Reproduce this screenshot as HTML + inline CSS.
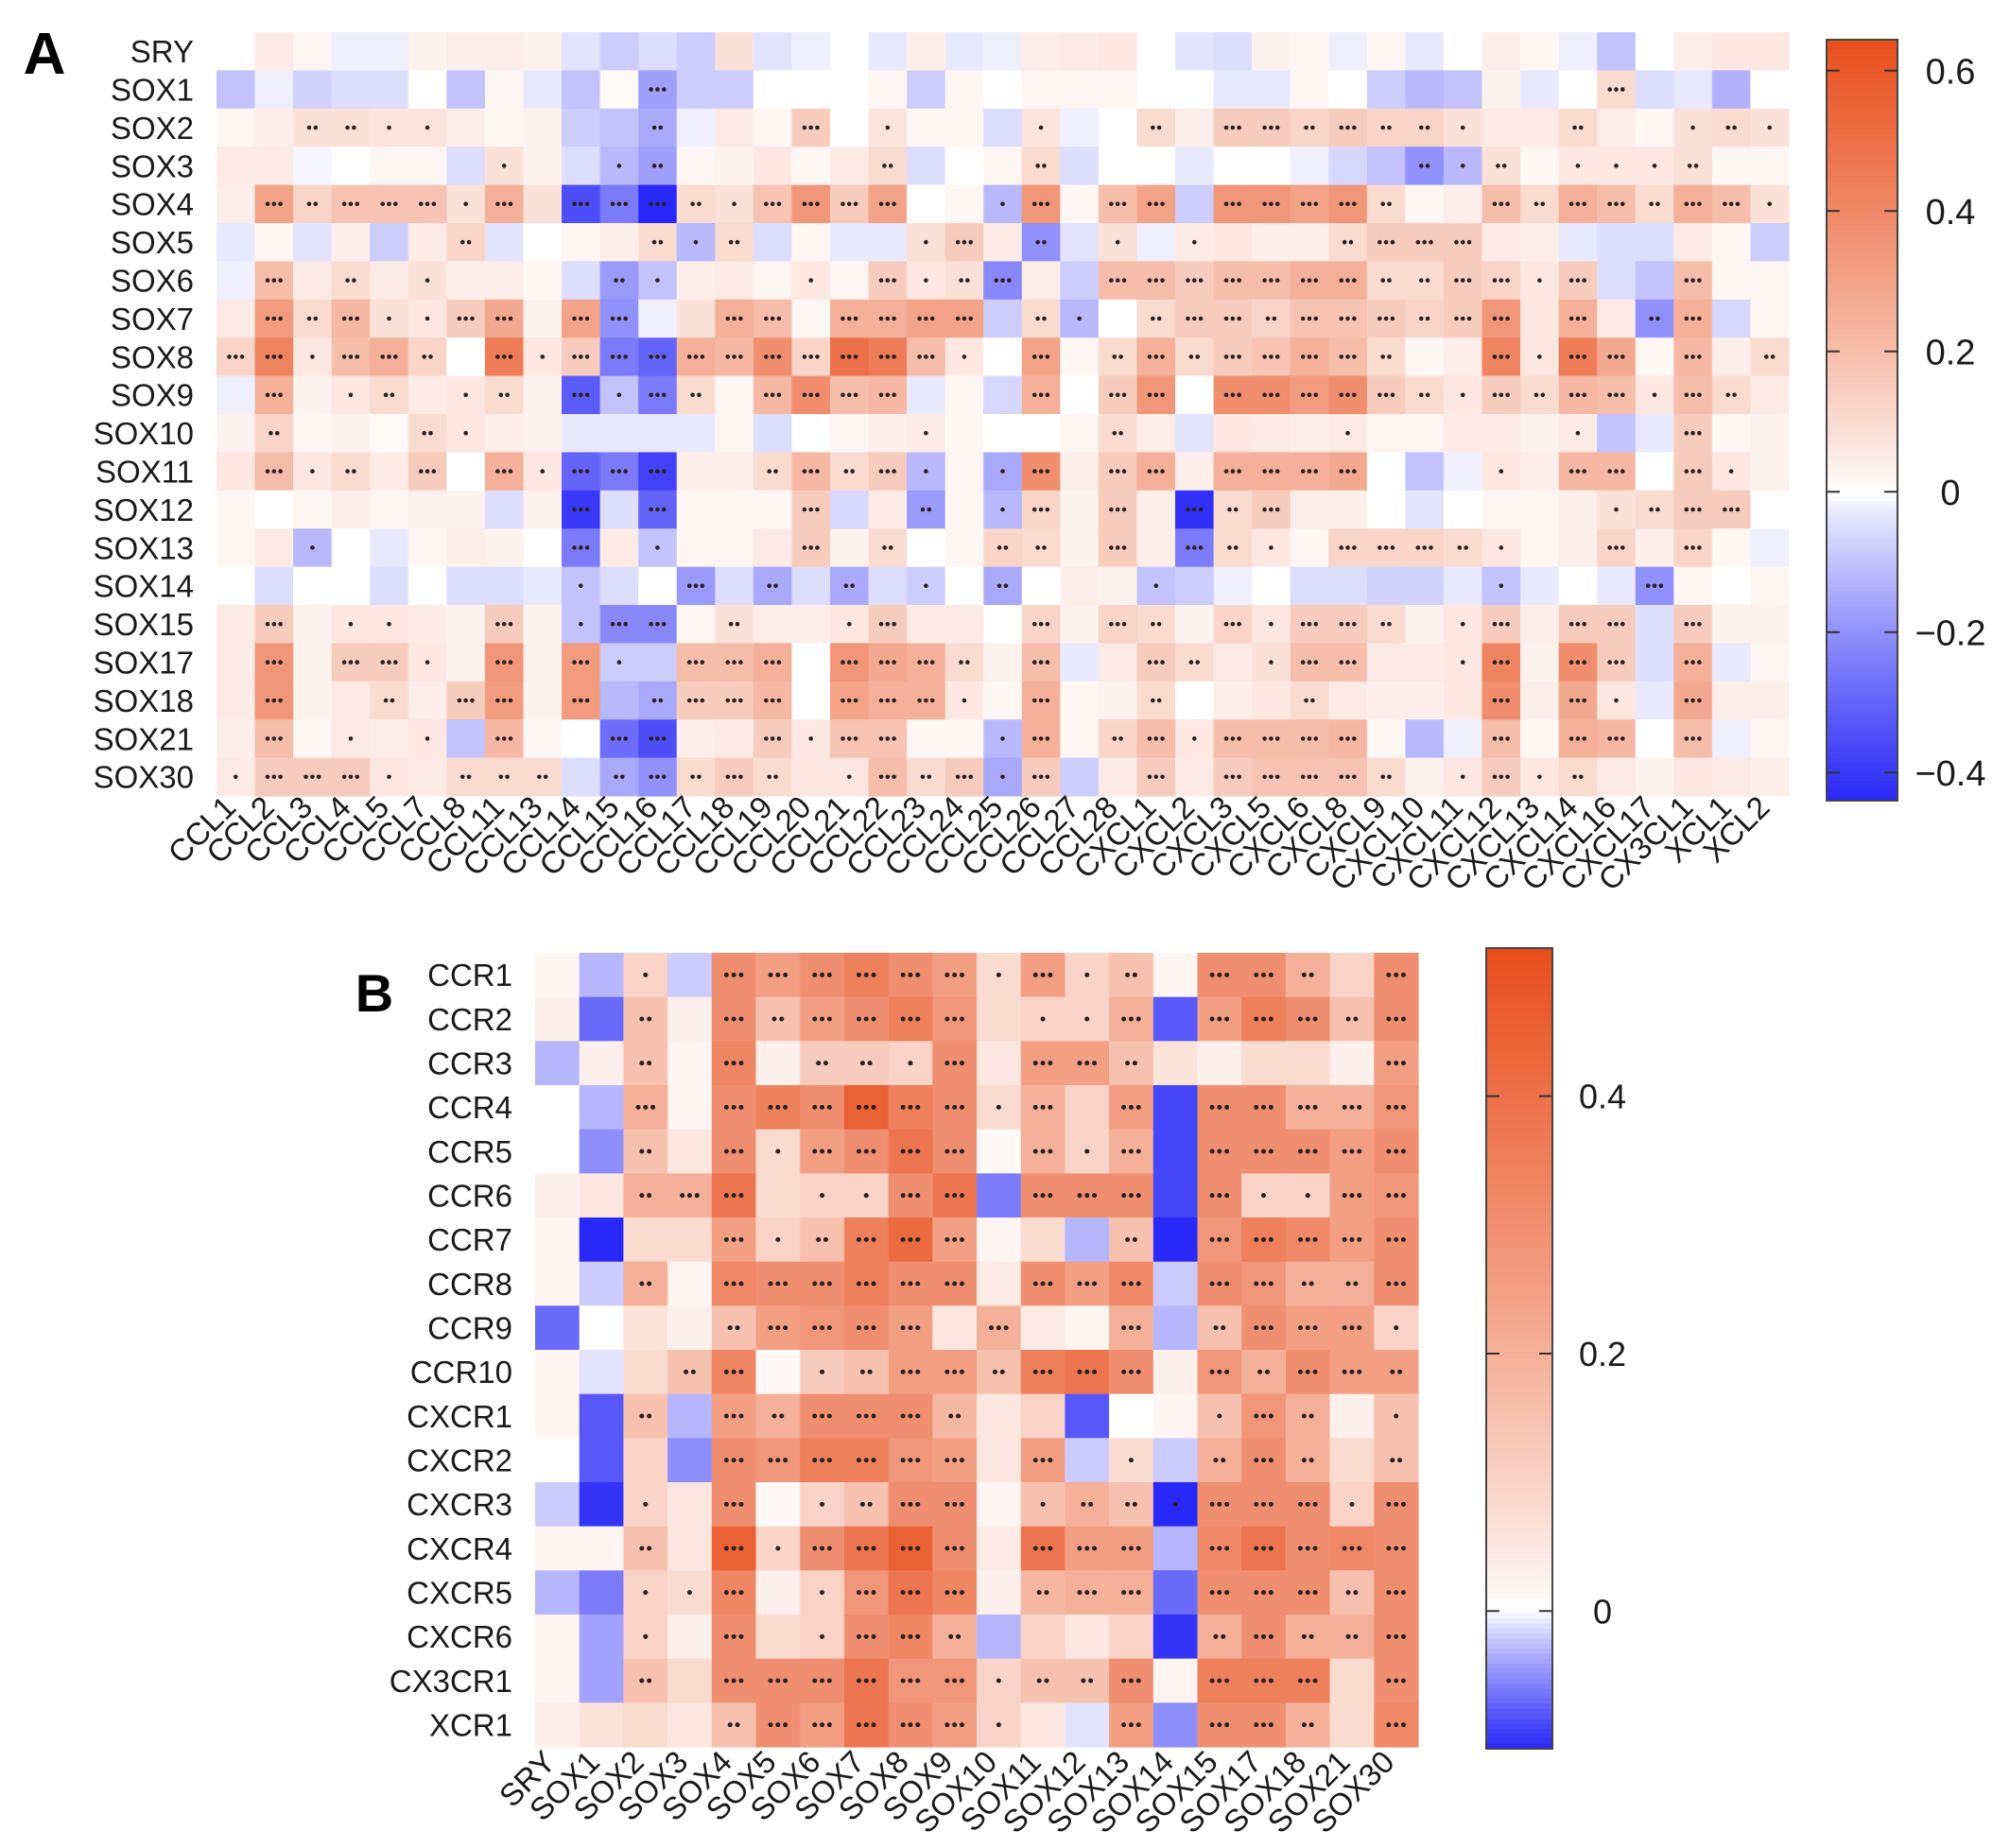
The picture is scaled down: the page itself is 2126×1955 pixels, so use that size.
<!DOCTYPE html>
<html><head><meta charset="utf-8"><title>SOX chemokine correlation heatmaps</title>
<style>
html,body{margin:0;padding:0;background:#fff;}
svg{display:block;font-family:"Liberation Sans",Arial,sans-serif;}
</style></head>
<body>
<svg id="chart" width="2126" height="1955" viewBox="0 0 2126 1955" xmlns="http://www.w3.org/2000/svg">
<rect width="2126" height="1955" fill="#fff"/>
<text x="47" y="78" font-size="62" font-weight="bold" text-anchor="middle">A</text>
<text x="396" y="1070" font-size="56" font-weight="bold" text-anchor="middle">B</text>
<g id="panelA"></g>
<g id="panelB"></g>
</svg>
<script>
const aRows=["SRY","SOX1","SOX2","SOX3","SOX4","SOX5","SOX6","SOX7","SOX8","SOX9","SOX10","SOX11","SOX12","SOX13","SOX14","SOX15","SOX17","SOX18","SOX21","SOX30"];
const aCols=["CCL1","CCL2","CCL3","CCL4","CCL5","CCL7","CCL8","CCL11","CCL13","CCL14","CCL15","CCL16","CCL17","CCL18","CCL19","CCL20","CCL21","CCL22","CCL23","CCL24","CCL25","CCL26","CCL27","CCL28","CXCL1","CXCL2","CXCL3","CXCL5","CXCL6","CXCL8","CXCL9","CXCL10","CXCL11","CXCL12","CXCL13","CXCL14","CXCL16","CXCL17","CX3CL1","XCL1","XCL2"];
const aValues=[
[0,0.05,0.02,-0.02,-0.02,0.03,0.04,0.04,0.03,-0.04,-0.08,-0.05,-0.08,0.08,-0.04,-0.02,0,-0.03,0.04,-0.03,-0.02,0.04,0.05,0.06,0,-0.04,-0.05,0.03,0.02,-0.02,0.02,-0.03,0,0.04,0.02,-0.02,-0.1,0,0.04,0.06,0.06],
[-0.1,-0.02,-0.07,-0.05,-0.05,0,-0.1,0.02,-0.03,-0.1,0.01,-0.17,-0.08,-0.08,0,0,0,0.02,-0.08,0.02,0,0.02,0.02,0.02,0,0,-0.03,-0.03,0.02,0,-0.08,-0.12,-0.1,0.03,-0.03,0,0.1,-0.05,-0.03,-0.13,0],
[0.02,0.04,0.08,0.08,0.07,0.07,0.04,0.02,0.03,-0.08,-0.1,-0.15,-0.02,0.05,0.02,0.15,0,0.07,0.02,0.02,-0.05,0.07,-0.02,0,0.1,0.04,0.15,0.15,0.12,0.15,0.12,0.12,0.08,0.05,0.05,0.1,0.04,0.02,0.08,0.1,0.08],
[0.05,0.05,-0.01,0,0.02,0.02,-0.05,0.08,0.03,-0.05,-0.12,-0.17,0.02,0.03,0.06,0.02,0.05,0.1,-0.05,0,0.02,0.1,-0.05,0,0,-0.03,0,0,-0.02,-0.06,-0.1,-0.2,-0.12,0.08,0.02,0.06,0.06,0.06,0.08,0.02,0.02],
[0.04,0.3,0.12,0.18,0.18,0.18,0.08,0.25,0.08,-0.35,-0.25,-0.45,0.1,0.08,0.18,0.35,0.15,0.3,0,0.02,-0.12,0.35,0.02,0.2,0.3,-0.08,0.35,0.35,0.3,0.35,0.1,0.02,0.04,0.2,0.1,0.25,0.2,0.1,0.25,0.2,0.08],
[-0.03,0.02,-0.04,0.04,-0.08,0.05,0.12,-0.04,0,0.02,0.04,0.1,-0.12,0.1,-0.05,0.02,-0.03,-0.03,0.08,0.15,0.05,-0.2,-0.04,0.08,-0.02,0.05,0.06,0.04,0.04,0.1,0.15,0.15,0.15,0.05,0.04,-0.03,-0.05,-0.05,0.05,0.02,-0.08],
[-0.02,0.2,0.05,0.1,0.05,0.08,0.04,0.04,0.02,-0.05,-0.18,-0.1,0.04,0.05,0.02,0.06,0.02,0.15,0.06,0.08,-0.22,0.04,-0.08,0.2,0.2,0.15,0.2,0.2,0.25,0.25,0.1,0.1,0.15,0.12,0.06,0.15,-0.05,-0.1,0.2,0.02,0.02],
[0.05,0.33,0.1,0.22,0.08,0.06,0.15,0.28,0.03,0.3,-0.2,-0.02,0.08,0.25,0.2,0.02,0.25,0.25,0.3,0.3,-0.08,0.1,-0.12,0,0.1,0.15,0.15,0.12,0.18,0.18,0.15,0.12,0.15,0.35,0.06,0.25,0.05,-0.2,0.25,-0.06,0.02],
[0.12,0.42,0.06,0.2,0.25,0.12,0,0.45,0.06,0.15,-0.25,-0.3,0.25,0.22,0.38,0.12,0.5,0.45,0.2,0.06,0,0.3,0.02,0.1,0.25,0.1,0.15,0.18,0.25,0.2,0.1,0.02,0.04,0.42,0.06,0.45,0.28,0.02,0.22,0.04,0.1],
[-0.02,0.25,0.03,0.06,0.1,0.05,0.06,0.1,0.03,-0.32,-0.1,-0.25,0.1,0.02,0.22,0.38,0.2,0.22,-0.03,0.02,-0.06,0.25,0,0.15,0.35,0,0.38,0.38,0.33,0.38,0.15,0.1,0.06,0.15,0.1,0.22,0.2,0.06,0.2,0.1,0.05],
[0.03,0.12,0.02,0.03,0.01,0.1,0.06,0.04,0.03,-0.03,-0.03,-0.03,-0.03,0.02,-0.05,0,0.02,0.04,0.05,0.02,0,0,0.02,0.1,0.04,-0.04,0.06,0.05,0.04,0.05,0.02,0.02,0.05,0.05,0.03,0.05,-0.1,-0.03,0.15,0.02,0.03],
[0.06,0.2,0.06,0.1,0.05,0.15,0,0.25,0.06,-0.3,-0.25,-0.38,0.04,0.04,0.1,0.22,0.1,0.15,-0.12,0.02,-0.15,0.38,0.04,0.15,0.25,0.04,0.25,0.25,0.25,0.28,0,-0.1,-0.02,0.06,0.04,0.22,0.22,0,0.15,0.06,0.03],
[0.02,0,0.02,0.04,0.02,0.03,0.03,-0.05,0.03,-0.4,-0.05,-0.3,0.02,0.02,0.02,0.15,-0.06,0.05,-0.18,0.02,-0.12,0.12,0.03,0.15,0.04,-0.42,0.1,0.15,0.04,0.04,0,-0.04,0,0.02,0.02,0.04,0.08,0.1,0.15,0.15,0],
[0.02,0.05,-0.12,0,-0.03,0.02,0.04,0.03,0,-0.25,0.05,-0.1,0.02,0.02,0.05,0.15,0.03,0.1,0,0.02,0.12,0.1,0.03,0.15,0.04,-0.25,0.1,0.06,0.02,0.12,0.12,0.12,0.1,0.06,0.02,0.04,0.12,0.04,0.12,0.02,-0.02],
[0,-0.05,0,0,-0.05,0,-0.05,-0.05,-0.03,-0.1,-0.05,0,-0.18,-0.05,-0.15,-0.05,-0.15,-0.05,-0.08,0,-0.15,0,0.04,0.03,-0.1,-0.08,-0.02,0,-0.05,-0.05,-0.07,-0.07,-0.03,-0.1,-0.03,0,-0.03,-0.2,0.02,0,0.02],
[0.05,0.15,0.03,0.06,0.06,0.05,0.03,0.15,0.03,-0.1,-0.22,-0.22,0.02,0.08,0.04,0.04,0.06,0.15,0.05,0.05,0,0.12,0.03,0.12,0.1,0.03,0.12,0.06,0.15,0.15,0.1,0.03,0.06,0.15,0.04,0.15,0.15,-0.05,0.15,0.03,0.03],
[0.05,0.35,0.03,0.15,0.15,0.06,0.03,0.35,0.03,0.33,-0.08,-0.08,0.2,0.2,0.25,0,0.35,0.28,0.25,0.1,0.03,0.2,-0.03,0.05,0.15,0.1,0.05,0.08,0.2,0.2,0.05,0.05,0.06,0.42,0.03,0.38,0.15,-0.05,0.25,-0.03,0.02],
[0.05,0.35,0.03,0.05,0.1,0.04,0.15,0.32,0.03,0.33,-0.12,-0.15,0.15,0.15,0.22,0,0.3,0.25,0.25,0.06,0.02,0.25,0.02,0.03,0.1,0,0.04,0.06,0.1,0.05,0.04,0.04,0.06,0.38,0.04,0.28,0.06,-0.03,0.28,0.04,0.04],
[0.04,0.2,0.02,0.05,0.04,0.06,-0.1,0.22,0.02,0,-0.28,-0.35,0.04,0.05,0.15,0.06,0.18,0.18,0.02,0.02,-0.12,0.25,0.02,0.12,0.2,0.06,0.2,0.2,0.2,0.22,0.02,-0.12,-0.02,0.2,0.02,0.25,0.22,0,0.2,-0.02,0.02],
[0.05,0.15,0.15,0.15,0.06,0.05,0.1,0.1,0.1,-0.05,-0.15,-0.2,0.1,0.15,0.1,0.06,0.06,0.2,0.1,0.15,-0.15,0.15,-0.08,0.05,0.15,0.05,0.15,0.18,0.18,0.18,0.1,0.03,0.06,0.15,0.06,0.1,0.05,0.03,0.06,0.05,0.04]
];
const aStars=[
[0,0,0,0,0,0,0,0,0,0,0,0,0,0,0,0,0,0,0,0,0,0,0,0,0,0,0,0,0,0,0,0,0,0,0,0,0,0,0,0,0],
[0,0,0,0,0,0,0,0,0,0,0,3,0,0,0,0,0,0,0,0,0,0,0,0,0,0,0,0,0,0,0,0,0,0,0,0,3,0,0,0,0],
[0,0,2,2,1,1,0,0,0,0,0,2,0,0,0,3,0,1,0,0,0,1,0,0,2,0,3,3,2,3,2,2,1,0,0,2,0,0,1,2,1],
[0,0,0,0,0,0,0,1,0,0,1,2,0,0,0,0,0,2,0,0,0,2,0,0,0,0,0,0,0,0,0,2,1,2,0,1,1,1,2,0,0],
[0,3,2,3,3,3,1,3,0,3,3,3,2,1,3,3,3,3,0,0,1,3,0,3,3,0,3,3,3,3,2,0,0,3,2,3,3,2,3,3,1],
[0,0,0,0,0,0,2,0,0,0,0,2,1,2,0,0,0,0,1,3,0,2,0,1,0,1,0,0,0,2,3,3,3,0,0,0,0,0,0,0,0],
[0,3,0,2,0,1,0,0,0,0,2,1,0,0,0,1,0,3,1,2,3,0,0,3,3,3,3,3,3,3,2,2,3,3,1,3,0,0,3,0,0],
[0,3,2,3,1,1,3,3,0,3,3,0,0,3,3,0,3,3,3,3,0,2,1,0,2,3,3,2,3,3,3,2,3,3,0,3,0,2,3,0,0],
[3,3,1,3,3,2,0,3,1,3,3,3,3,3,3,3,3,3,3,1,0,3,0,2,3,2,3,3,3,3,2,0,0,3,1,3,3,0,3,0,2],
[0,3,0,1,2,0,1,2,0,3,1,3,2,0,3,3,3,3,0,0,0,3,0,3,3,0,3,3,3,3,3,2,1,3,2,3,3,1,3,2,0],
[0,2,0,0,0,2,1,0,0,0,0,0,0,0,0,0,0,0,1,0,0,0,0,2,0,0,0,0,0,1,0,0,0,0,0,1,0,0,3,0,0],
[0,3,1,2,0,3,0,3,1,3,3,3,0,0,2,3,2,3,1,0,1,3,0,3,3,0,3,3,3,3,0,0,0,1,0,3,3,0,3,1,0],
[0,0,0,0,0,0,0,0,0,3,0,3,0,0,0,3,0,0,2,0,1,3,0,3,0,3,2,3,0,0,0,0,0,0,0,0,1,2,3,3,0],
[0,0,1,0,0,0,0,0,0,3,0,1,0,0,0,3,0,2,0,0,2,2,0,3,0,3,2,1,0,3,3,3,2,1,0,0,3,0,3,0,0],
[0,0,0,0,0,0,0,0,0,1,0,0,3,0,2,0,2,0,1,0,2,0,0,0,1,0,0,0,0,0,0,0,0,1,0,0,0,3,0,0,0],
[0,3,0,1,1,0,0,3,0,1,3,3,0,2,0,0,1,3,0,0,0,3,0,3,2,0,3,1,3,3,2,0,1,3,0,3,3,0,3,0,0],
[0,3,0,3,3,1,0,3,0,3,1,0,3,3,3,0,3,3,3,2,0,3,0,0,3,2,0,1,3,3,0,0,1,3,0,3,3,0,3,0,0],
[0,3,0,0,2,0,3,3,0,3,0,2,3,3,3,0,3,3,3,1,0,3,0,0,2,0,0,0,2,0,0,0,0,3,0,3,1,0,3,0,0],
[0,3,0,1,0,1,0,3,0,0,3,3,0,0,3,1,3,3,0,0,1,3,0,2,3,1,3,3,3,3,0,0,0,3,0,3,3,0,3,0,0],
[1,3,3,3,1,0,2,2,2,0,2,3,2,3,2,0,1,3,2,3,1,3,0,0,3,0,3,3,3,3,2,0,1,3,1,2,0,0,0,0,0]
];
const aTicks=[0.6,0.4,0.2,0,-0.2,-0.4];
const aTickLabels=["0.6","0.4","0.2","0","\u22120.2","\u22120.4"];

const bRows=["CCR1","CCR2","CCR3","CCR4","CCR5","CCR6","CCR7","CCR8","CCR9","CCR10","CXCR1","CXCR2","CXCR3","CXCR4","CXCR5","CXCR6","CX3CR1","XCR1"];
const bCols=["SRY","SOX1","SOX2","SOX3","SOX4","SOX5","SOX6","SOX7","SOX8","SOX9","SOX10","SOX11","SOX12","SOX13","SOX14","SOX15","SOX17","SOX18","SOX21","SOX30"];
const bValues=[
[0.02,-0.03,0.1,-0.02,0.3,0.25,0.3,0.35,0.3,0.25,0.08,0.25,0.1,0.15,0.02,0.3,0.3,0.2,0.1,0.3],
[0.03,-0.07,0.15,0.03,0.3,0.15,0.25,0.3,0.35,0.28,0.08,0.1,0.1,0.2,-0.08,0.25,0.35,0.3,0.15,0.3],
[-0.03,0.03,0.15,0.02,0.33,0.03,0.12,0.12,0.1,0.3,0.05,0.25,0.25,0.15,0.06,0.03,0.08,0.08,0.03,0.25],
[0,-0.03,0.2,0.02,0.3,0.35,0.3,0.45,0.35,0.3,0.08,0.2,0.1,0.25,-0.09,0.3,0.3,0.2,0.2,0.28],
[0,-0.05,0.15,0.05,0.3,0.08,0.25,0.3,0.38,0.3,0.01,0.2,0.1,0.2,-0.09,0.3,0.3,0.3,0.25,0.3],
[0.03,0.05,0.2,0.2,0.38,0.08,0.1,0.1,0.3,0.38,-0.06,0.3,0.3,0.3,-0.09,0.3,0.1,0.1,0.25,0.28],
[0.02,-0.11,0.08,0.08,0.25,0.1,0.15,0.35,0.42,0.25,0.02,0.08,-0.03,0.15,-0.11,0.28,0.35,0.32,0.25,0.3],
[0.02,-0.02,0.2,0.02,0.32,0.3,0.3,0.35,0.3,0.3,0.04,0.3,0.25,0.32,-0.02,0.3,0.28,0.2,0.2,0.3],
[-0.07,0,0.06,0.03,0.15,0.25,0.28,0.3,0.25,0.05,0.2,0.04,0.02,0.2,-0.03,0.15,0.3,0.25,0.25,0.1],
[0.02,-0.01,0.08,0.15,0.33,0.01,0.12,0.15,0.25,0.25,0.15,0.35,0.38,0.3,0.03,0.28,0.2,0.3,0.25,0.25],
[0.02,-0.08,0.15,-0.03,0.25,0.2,0.3,0.3,0.3,0.18,0.05,0.1,-0.08,0,0.02,0.15,0.28,0.2,0.03,0.15],
[0,-0.08,0.1,-0.05,0.3,0.28,0.35,0.35,0.28,0.25,0.05,0.25,-0.02,0.08,-0.02,0.2,0.3,0.2,0.08,0.15],
[-0.02,-0.1,0.1,0.05,0.3,0.01,0.1,0.15,0.3,0.3,0.02,0.15,0.2,0.15,-0.14,0.3,0.3,0.3,0.1,0.3],
[0.02,0.02,0.15,0.05,0.45,0.1,0.3,0.38,0.45,0.3,0.04,0.38,0.25,0.25,-0.03,0.32,0.38,0.3,0.32,0.3],
[-0.03,-0.06,0.1,0.08,0.33,0.03,0.1,0.28,0.38,0.33,0.03,0.18,0.2,0.2,-0.07,0.3,0.3,0.3,0.15,0.3],
[0.02,-0.04,0.1,0.03,0.3,0.08,0.1,0.3,0.33,0.2,-0.03,0.1,0.05,0.1,-0.1,0.2,0.3,0.2,0.2,0.3],
[0.02,-0.04,0.15,0.08,0.3,0.3,0.3,0.38,0.28,0.28,0.1,0.15,0.15,0.3,0.02,0.35,0.35,0.35,0.08,0.3],
[0.03,0.06,0.08,0.05,0.15,0.3,0.25,0.38,0.3,0.25,0.1,0.05,-0.01,0.25,-0.05,0.3,0.3,0.2,0.08,0.32]
];
const bStars=[
[0,0,1,0,3,3,3,3,3,3,1,3,1,2,0,3,3,2,0,3],
[0,0,2,0,3,2,3,3,3,3,0,1,1,3,0,3,3,3,2,3],
[0,0,2,0,3,0,2,2,1,3,0,3,3,2,0,0,0,0,0,3],
[0,0,3,0,3,3,3,3,3,3,1,3,0,3,0,3,3,3,3,3],
[0,0,2,0,3,1,3,3,3,3,0,3,1,3,0,3,3,3,3,3],
[0,0,2,3,3,0,1,1,3,3,0,3,3,3,0,3,1,1,3,3],
[0,0,0,0,3,1,2,3,3,3,0,0,0,2,0,3,3,3,3,3],
[0,0,2,0,3,3,3,3,3,3,0,3,3,3,0,3,3,2,2,3],
[0,0,0,0,2,3,3,3,3,0,3,0,0,3,0,2,3,3,3,1],
[0,0,0,2,3,0,1,2,3,3,2,3,3,3,0,3,2,3,3,2],
[0,0,2,0,3,2,3,3,3,2,0,0,0,0,0,1,3,2,0,1],
[0,0,0,0,3,3,3,3,3,3,0,3,0,1,0,2,3,2,0,2],
[0,0,1,0,3,0,1,2,3,3,0,1,2,2,1,3,3,3,1,3],
[0,0,2,0,3,1,3,3,3,3,0,3,3,3,0,3,3,3,3,3],
[0,0,1,1,3,0,1,3,3,3,0,2,3,3,0,3,3,3,2,3],
[0,0,1,0,3,0,1,3,3,2,0,0,0,0,0,2,3,2,2,3],
[0,0,2,0,3,3,3,3,3,3,1,2,2,3,0,3,3,3,0,3],
[0,0,0,0,2,3,3,3,3,3,1,0,0,3,0,3,3,2,0,3]
];
const bTicks=[0.4,0.2,0];
const bTickLabels=["0.4","0.2","0"];

const NS="http://www.w3.org/2000/svg";
function mk(tag,attrs,parent){const e=document.createElementNS(NS,tag);for(const k in attrs)e.setAttribute(k,attrs[k]);parent.appendChild(e);return e;}
const POS=[232,78,28], NEG=[40,40,248];
function colorFor(v,vmin,vmax){
  let t,c;
  if(v>=0){t=Math.min(1,v/vmax);c=POS;}else{t=Math.min(1,v/vmin);c=NEG;}
  t=Math.pow(t,0.85);
  const r=Math.round(255+(c[0]-255)*t),g=Math.round(255+(c[1]-255)*t),b=Math.round(255+(c[2]-255)*t);
  return `rgb(${r},${g},${b})`;
}

function drawPanel(cfg){
  const g=document.getElementById(cfg.id);
  const nR=cfg.rows.length,nC=cfg.cols.length;
  const cw=(cfg.x1-cfg.x0)/nC, rh=(cfg.y1-cfg.y0)/nR;
  const xAt=i=>cfg.x0+i*cw, yAt=j=>cfg.y0+j*rh;
  for(let j=0;j<nR;j++){
    for(let i=0;i<nC;i++){
      const v=cfg.vals[j][i];
      const r=mk('rect',{x:xAt(i).toFixed(2),y:yAt(j).toFixed(2),width:(cw+0.6).toFixed(2),height:(rh+0.6).toFixed(2),fill:colorFor(v,cfg.vmin,cfg.vmax)},g);
      
      
      const s=cfg.stars[j][i];
      const cx=xAt(i)+cw/2, cy=yAt(j)+rh/2;
      for(let k=0;k<s;k++){
        const d=mk('circle',{cx:(cx+(k-(s-1)/2)*cfg.dotGap).toFixed(2),cy:cy.toFixed(2),r:cfg.dotR,fill:'#2a2020'},g);
        
        
      }
    }
  }
  for(let j=0;j<nR;j++){
    const t=mk('text',{x:cfg.x0-cfg.labelGap,y:(yAt(j)+rh/2+cfg.fs*0.36).toFixed(1),'font-size':cfg.fs,'text-anchor':'end',fill:'#1a1a1a'},g);
    t.textContent=cfg.rows[j];
    
    
  }
  for(let i=0;i<nC;i++){
    const ax=xAt(i)+cw/2+cfg.colDx, ay=cfg.y1+cfg.colDy;
    const t=mk('text',{x:ax.toFixed(1),y:ay.toFixed(1),'font-size':cfg.fs,'text-anchor':'end',fill:'#1a1a1a',transform:`rotate(-45 ${ax.toFixed(1)} ${ay.toFixed(1)})`},g);
    t.textContent=cfg.cols[i];
    
    
  }
  const cb=cfg.cb;
  const cg=mk('g',{},g);
  
  
  const N=160, span=cb.y1-cb.y0;
  const valAt=y=>cb.vTop+(cb.vBot-cb.vTop)*(y-cb.y0)/span;
  const yOf=v=>cb.y0+(v-cb.vTop)/(cb.vBot-cb.vTop)*span;
  for(let k=0;k<N;k++){
    const y=cb.y0+k*span/N;
    mk('rect',{x:cb.x0,y:y.toFixed(2),width:cb.x1-cb.x0,height:(span/N+0.8).toFixed(2),fill:colorFor(valAt(y+span/N/2),cfg.vmin,cfg.vmax)},cg);
  }
  mk('rect',{x:cb.x0,y:cb.y0,width:cb.x1-cb.x0,height:span,fill:'none',stroke:'#444','stroke-width':2},cg);
  cfg.ticks.forEach((tv,k)=>{
    const y=yOf(tv);
    mk('line',{x1:cb.x0,x2:cb.x0+14,y1:y,y2:y,stroke:'#333','stroke-width':2},cg);
    mk('line',{x1:cb.x1-14,x2:cb.x1,y1:y,y2:y,stroke:'#333','stroke-width':2},cg);
    const t=mk('text',{x:cb.lx,y:(y+cb.fs*0.36).toFixed(1),'font-size':cb.fs,'text-anchor':'middle',fill:'#1a1a1a'},cg);
    t.textContent=cfg.tickLabels[k];
    
    
  });
}

drawPanel({id:'panelA',rows:aRows,cols:aCols,vals:aValues,stars:aStars,vmin:-0.44,vmax:0.644,
  x0:229,x1:1892,y0:34,y1:842,fs:33,labelGap:24,colDx:2,colDy:14,dotR:2.3,dotGap:6.8,
  ticks:aTicks,tickLabels:aTickLabels,
  cb:{x0:1932,x1:2007,y0:42,y1:847,vTop:0.644,vBot:-0.44,lx:2063,fs:38}});
drawPanel({id:'panelB',rows:bRows,cols:bCols,vals:bValues,stars:bStars,vmin:-0.107,vmax:0.515,
  x0:566,x1:1500,y0:1008,y1:1848,fs:33,labelGap:24,colDx:0,colDy:18,dotR:2.5,dotGap:7.8,
  ticks:bTicks,tickLabels:bTickLabels,
  cb:{x0:1572,x1:1642,y0:1003,y1:1850,vTop:0.515,vBot:-0.107,lx:1695,fs:36}});
</script>
</body></html>
